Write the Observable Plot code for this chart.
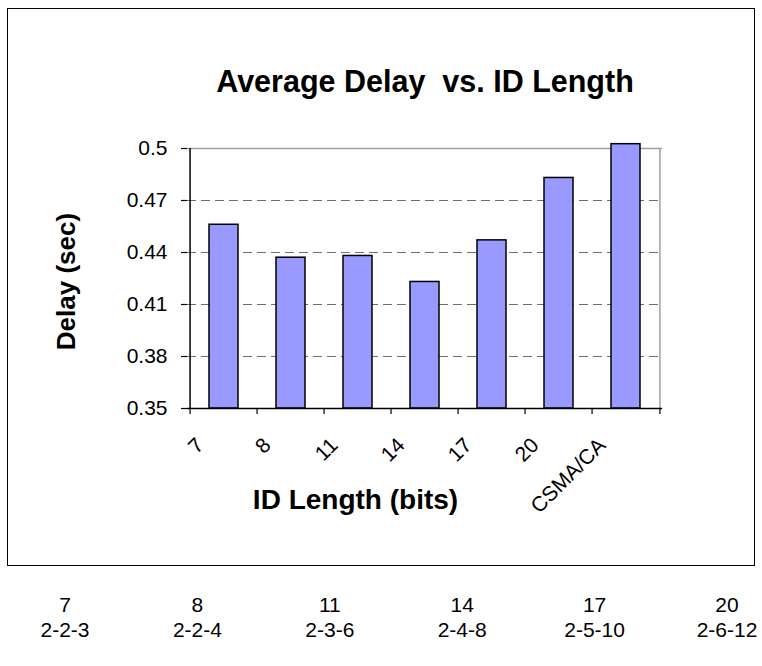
<!DOCTYPE html>
<html>
<head>
<meta charset="utf-8">
<script src="https://cdn.jsdelivr.net/npm/d3@7"></script>
<script src="https://cdn.jsdelivr.net/npm/@observablehq/plot@0.6"></script>
<style>
  body { margin: 0; background: #fff; font-family: "Liberation Sans", Arial, sans-serif; }
  #wrap { position: relative; width: 762px; height: 666px; overflow: hidden; }
  #box { position: absolute; left: 7px; top: 8px; width: 748px; height: 558px; box-sizing: border-box;
         border: 1.5px solid #000; }
  #chart { position: absolute; left: 0; top: 0; }
  .cell { position: absolute; font-size: 21px; line-height: 22px; color: #000; transform: translateX(-50%); white-space: nowrap; }
</style>
</head>
<body>
<div id="wrap">
  <div id="box"></div>
  <div id="chart"></div>
  <div id="legend"></div>
</div>
<script>
// Average delay per ID length (bits), plus the CSMA/CA baseline
const categories = ["7", "8", "11", "14", "17", "20", "CSMA/CA"];
const delays = [0.456, 0.437, 0.438, 0.423, 0.447, 0.483, 0.5025];
const yTicks = [0.35, 0.38, 0.41, 0.44, 0.47, 0.5];

// ID lengths and their split into fields, listed under the chart
const idLengths = ["7", "8", "11", "14", "17", "20"];
const idSplits = ["2-2-3", "2-2-4", "2-3-6", "2-4-8", "2-5-10", "2-6-12"];

const chartTitle = "Average Delay\u00a0 vs. ID Length";
const xTitle = "ID Length (bits)";
const yTitle = "Delay (sec)";

const rows = categories.map((cat, i) => ({cat, delay: delays[i]}));
const yMin = yTicks[0];
const yMax = yTicks[yTicks.length - 1];

const W = 762, H = 666;
const mL = 187, mR = 100, mT = 148, mB = 258;
const step = (W - mL - mR) / categories.length;
const font = "'Liberation Sans', Arial, sans-serif";

const chart = Plot.plot({
  width: W,
  height: H,
  marginLeft: mL,
  marginRight: mR,
  marginTop: mT,
  marginBottom: mB,
  style: {fontFamily: font, background: "transparent", overflow: "visible", color: "#000"},
  x: {domain: categories, paddingInner: 0.574, paddingOuter: 0.287, axis: null},
  y: {domain: [yMin, yMax], axis: null},
  marks: [
    // dashed gridlines
    Plot.ruleY(yTicks.slice(1, -1), {stroke: "#6e6e6e", strokeWidth: 1.2, strokeDasharray: "9,5"}),
    // plot area border (top and right)
    Plot.ruleY([yMax], {stroke: "#a0a0a0", strokeWidth: 1.5}),
    Plot.ruleX([categories[categories.length - 1]], {y1: yMin, y2: yMax, dx: step / 2, stroke: "#a0a0a0", strokeWidth: 1.5}),
    // bars
    Plot.barY(rows, {x: "cat", y1: () => yMin, y2: "delay", fill: "#9999ff", stroke: "#000", strokeWidth: 1.5}),
    // axis lines
    Plot.ruleX([categories[0]], {y1: yMin, y2: yMax, dx: -step / 2, stroke: "#000", strokeWidth: 1.5}),
    Plot.ruleY([yMin], {stroke: "#000", strokeWidth: 1.5}),
    // y axis ticks and labels
    Plot.axisY(yTicks, {tickSize: 6, tickFormat: () => "", label: null, strokeWidth: 1.2}),
    Plot.text(yTicks, {y: d => d, text: d => String(d), frameAnchor: "left", textAnchor: "end", lineAnchor: "middle",
      dx: -20, fontSize: 21, ariaLabel: "y-tick-labels"}),
    // x axis ticks at category boundaries
    Plot.axisX(categories, {tickSize: 6, dx: -step / 2, tickFormat: () => "", label: null, strokeWidth: 1.2}),
    Plot.axisX([categories[categories.length - 1]], {tickSize: 6, dx: step / 2, tickFormat: () => "", label: null, strokeWidth: 1.2}),
    // rotated category labels
    Plot.text(categories, {x: d => d, frameAnchor: "bottom", rotate: -45, textAnchor: "end", lineAnchor: "bottom",
      dx: -19, dy: 38, fontSize: 21}),
    // titles
    Plot.text([chartTitle], {frameAnchor: "top", textAnchor: "middle", lineAnchor: "bottom", dy: -57, fontSize: 30.5, fontWeight: "bold"}),
    Plot.text([xTitle], {frameAnchor: "bottom", textAnchor: "middle", lineAnchor: "bottom", dx: -69.5, dy: 100, fontSize: 28, fontWeight: "bold"}),
    Plot.text([yTitle], {frameAnchor: "left", textAnchor: "middle", lineAnchor: "bottom", rotate: -90, dx: -113, dy: 3, fontSize: 26, fontWeight: "bold"})
  ]
});
document.getElementById("chart").appendChild(chart);

// the value labels on the y axis are set a little wider than the font's natural width
function widen(label, k) {
  chart.querySelectorAll(`g[aria-label="${label}"] text`).forEach(t => {
    const len = t.getComputedTextLength();
    if (len > 0) {
      t.setAttribute("textLength", (len * k).toFixed(1));
      t.setAttribute("lengthAdjust", "spacingAndGlyphs");
    }
  });
}
widen("y-tick-labels", 1.22);

// table of ID lengths and field splits below the chart
const legend = document.getElementById("legend");
const colStart = 65, colStep = 132.4;
idLengths.forEach((len, i) => {
  const a = document.createElement("div");
  a.className = "cell";
  a.style.left = (colStart + i * colStep) + "px";
  a.style.top = "594px";
  a.textContent = len;
  legend.appendChild(a);
  const b = document.createElement("div");
  b.className = "cell";
  b.style.left = (colStart + i * colStep) + "px";
  b.style.top = "619px";
  b.textContent = idSplits[i];
  legend.appendChild(b);
});
</script>
</body>
</html>
